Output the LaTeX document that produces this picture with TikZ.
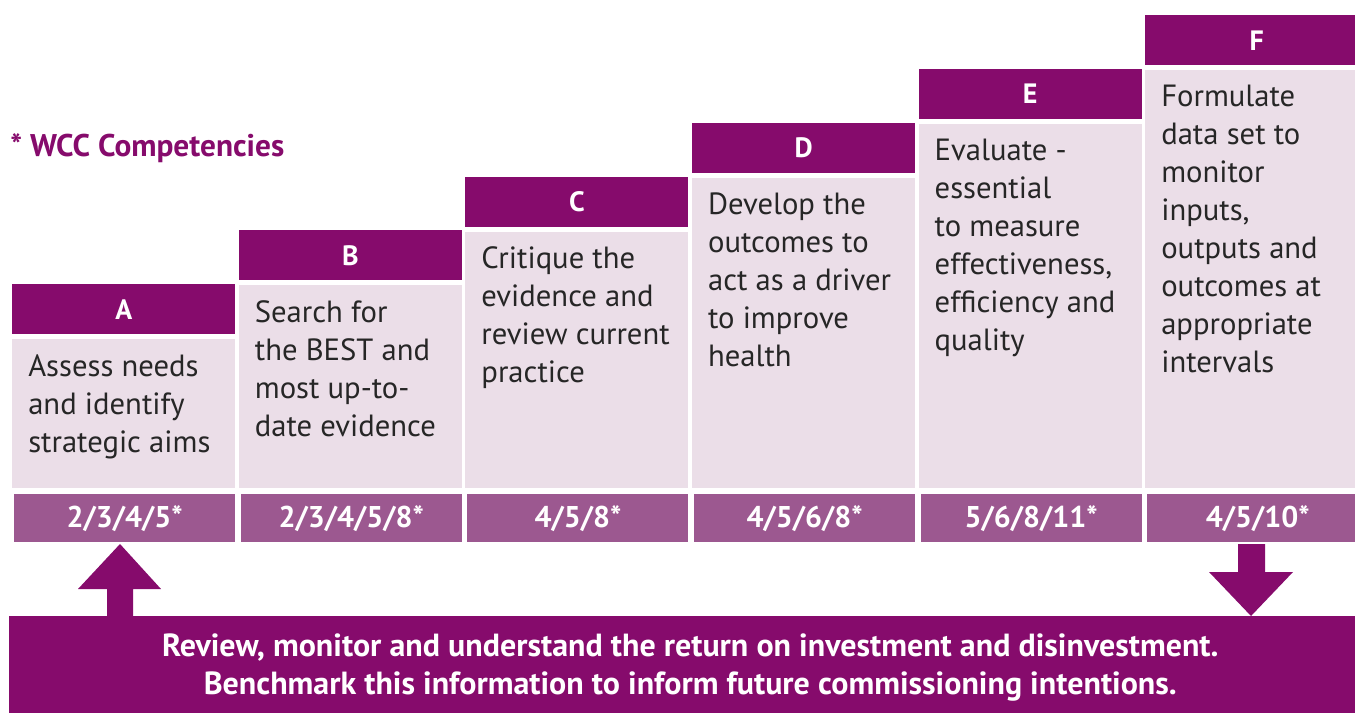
\documentclass[tikz,border=0pt]{standalone}
\usepackage{fontspec}
\setmainfont{PT Sans}
\usepackage{xcolor}
\definecolor{wccdark}{RGB}{134,11,108}
\definecolor{wccmid}{RGB}{156,88,144}
\definecolor{wccpale}{RGB}{235,222,232}

\begin{document}
\begin{tikzpicture}[x=0.75pt,y=-0.75pt,
	hdr/.style={fill=wccdark, text=white, inner sep=0pt, anchor=north west,
		font=\bfseries\fontsize{21}{24}\selectfont},
	pale/.style={fill=wccpale, inner sep=0pt, anchor=north west},
	body/.style={text=black!85, inner sep=0pt, anchor=north west, align=left,
		font=\fontsize{23}{28.5}\selectfont},
	codebar/.style={fill=wccmid, text=white, inner sep=0pt, anchor=north west,
		font=\bfseries\fontsize{22.5}{26}\selectfont},
]

\useasboundingbox (0,0) rectangle (1355,713);
\clip (0,0) rectangle (1355,713);

\def\colstep{226.6}
\def\colw{223}
\def\hdrh{50}
\def\rise{53.8}
\def\boxbottom{488}

\foreach \i/\ltr/\txt/\code in {
	0/A/{Assess needs\\and identify\\strategic aims}/{2/3/4/5*},
	1/B/{Search for\\the BEST and\\most up-to-\\date evidence}/{2/3/4/5/8*},
	2/C/{Critique the\\evidence and\\review current\\practice}/{4/5/8*},
	3/D/{Develop the\\outcomes to\\act as a driver\\to improve\\health}/{4/5/6/8*},
	4/E/{Evaluate -\\essential\\to measure\\effectiveness,\\efficiency and\\quality}/{5/6/8/11*},
	5/F/{Formulate\\data set to\\monitor\\inputs,\\outputs and\\outcomes at\\appropriate\\intervals}/{4/5/10*}} {
	\pgfmathsetmacro\xs{12+\i*\colstep}
	\pgfmathsetmacro\ys{284-\i*\rise}
	\pgfmathsetmacro\yt{\ys+\hdrh+5}
	\pgfmathsetmacro\bh{\boxbottom-\yt}
	\node[hdr, minimum width=\colw*0.75pt, minimum height=\hdrh*0.75pt] (hdr\ltr) at (\xs,\ys) {\ltr};
	\node[pale, minimum width=\colw*0.75pt, minimum height=\bh*0.75pt] (box\ltr) at (\xs,\yt) {};
	\node[body] (txt\ltr) at ([shift={(16,15)}]box\ltr.north west) {\txt};
	\node[codebar, minimum width=(\colw-2)*0.75pt, minimum height=48*0.75pt] (code\ltr) at (\xs+2,494) {\code};
}

\node[anchor=west, text=wccdark, inner sep=0pt, font=\bfseries\fontsize{23.5}{28}\selectfont] (legend) at (10,148) {* WCC Competencies};

% bottom banner
\node[fill=wccdark, inner sep=0pt, anchor=north west,
	minimum width=1362*0.75pt, minimum height=97*0.75pt] (review) at (9,616) {};
\node[text=white, inner sep=0pt, align=center,
	font=\bfseries\fontsize{24}{29}\selectfont] (reviewtxt) at ([yshift=-2pt]review.center)
	{Review, monitor and understand the return on investment and disinvestment.\\
	 Benchmark this information to inform future commissioning intentions.};

% block arrows
\fill[wccdark] (107,616) -- (107,589) -- (78,589) -- (120,544) -- (161,589) -- (133,589) -- (133,616) -- cycle;
\fill[wccdark] (1238,544) -- (1265,544) -- (1265,572) -- (1293,572) -- (1251,616) -- (1209,572) -- (1238,572) -- cycle;

\end{tikzpicture}
\end{document}
